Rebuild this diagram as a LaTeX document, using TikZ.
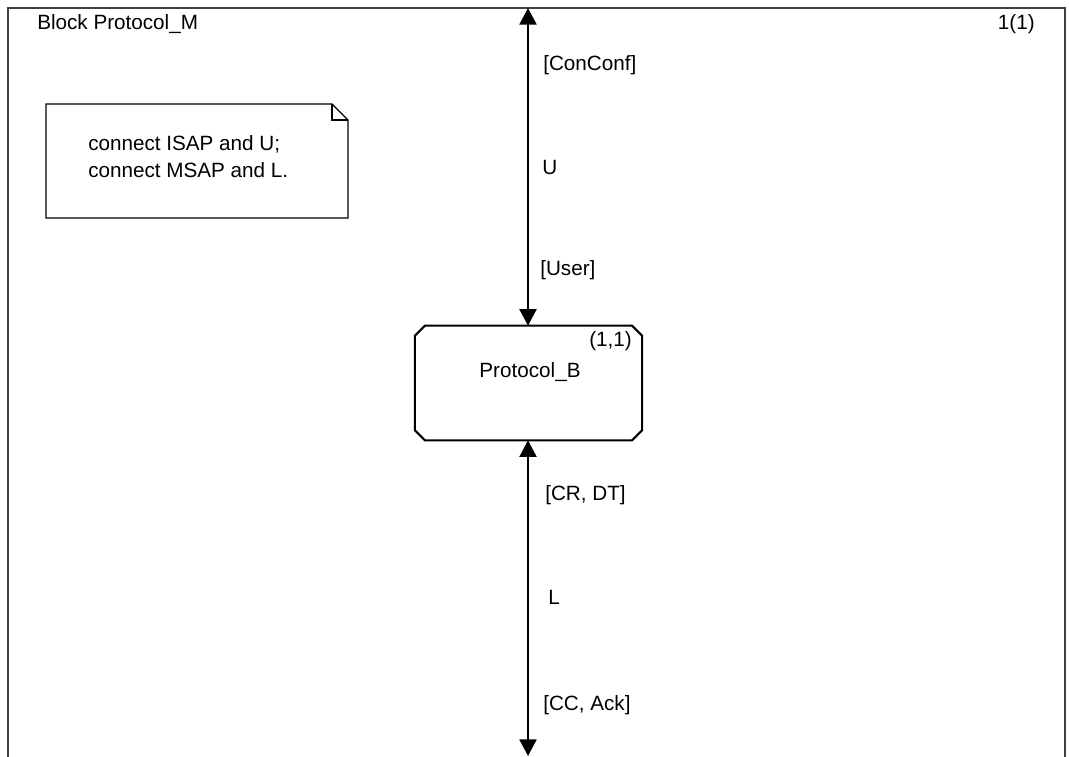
\documentclass[tikz,border=0pt]{standalone}
\usepackage{fontspec}
\setmainfont{Liberation Sans}
\usetikzlibrary{arrows.meta}

\begin{document}
\begin{tikzpicture}[x=0.75pt,y=-0.75pt,font=\fontsize{15.5}{20.25}\selectfont,
	chan/.style={line width=1.5pt,{Triangle[width=12.8pt,length=12.5pt]}-{Triangle[width=12.8pt,length=12.5pt]}},
	lbl/.style={anchor=west,inner sep=0pt}]
	\useasboundingbox[fill=white] (0,0) rectangle (1069,756);
	\draw[black!75,line width=0.8pt] (8,770) -- (8,8) -- (1065,8) -- (1065,770);
	\node[lbl] (title) at (37,24) {Block Protocol\_M};
	\node[anchor=east,inner sep=0pt] (page) at (1035,24) {1(1)};
	% comment symbol
	\draw[line width=1pt] (46,104) -- (332,104) -- (348,120) -- (348,218) -- (46,218) -- cycle;
	\draw[line width=1pt] (332,104) -- (332,120) -- (348,120);
	\node[lbl,align=left] (note) at (88,157) {connect ISAP and U;\\connect MSAP and L.};
	% block
	\node[minimum width=170pt,minimum height=85.5pt,inner sep=0pt] (protob) at (528.5,383) {};
	\draw[line width=1.5pt] ([xshift=7.5pt]protob.north west) -- ([xshift=-7.5pt]protob.north east)
		-- ([yshift=-7.5pt]protob.north east) -- ([yshift=7.5pt]protob.south east)
		-- ([xshift=-7.5pt]protob.south east) -- ([xshift=7.5pt]protob.south west)
		-- ([yshift=7.5pt]protob.south west) -- ([yshift=-7.5pt]protob.north west) -- cycle;
	\node (bname) at (530,372) {Protocol\_B};
	\node[anchor=north east,inner sep=0pt] (bnum) at (632,331) {(1,1)};
	% channels
	\coordinate (utop) at (528,8);
	\coordinate (lbot) at (528,756);
	\draw[chan] (utop) -- (protob.north -| utop);
	\draw[chan] (protob.south -| lbot) -- (lbot);
	\node[lbl] (uout) at (543,65) {[ConConf]};
	\node[lbl] (uname) at (542,167) {U};
	\node[lbl] (uin) at (540,270) {[User]};
	\node[lbl] (lout) at (545,495) {[CR, DT]};
	\node[lbl] (lname) at (548,597) {L};
	\node[lbl] (lin) at (543,705) {[CC, Ack]};
\end{tikzpicture}
\end{document}
